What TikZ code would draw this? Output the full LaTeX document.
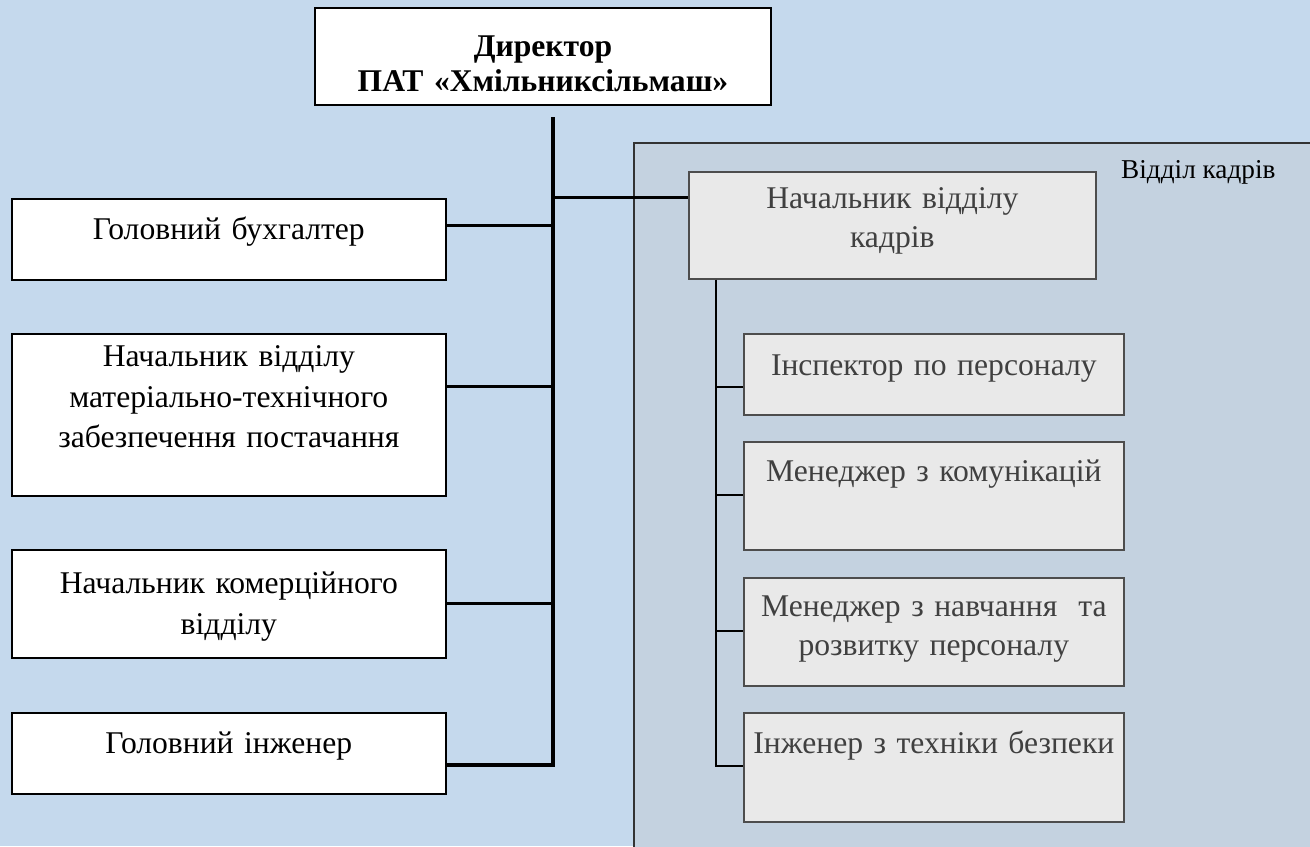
\documentclass[tikz,border=0pt]{standalone}
\usepackage{fontspec}
\setmainfont{Liberation Serif}
\definecolor{bgblue}{RGB}{197,217,237}
\definecolor{deptblue}{RGB}{196,210,224}
\definecolor{boxgray}{RGB}{233,233,233}
\definecolor{edgegray}{RGB}{77,77,77}
\definecolor{textgray}{RGB}{64,64,64}

\begin{document}
\begin{tikzpicture}[x=0.02cm,y=-0.02cm,
    post/.style={draw=black,line width=1pt,fill=white,inner sep=0pt,anchor=north west,
      text width=8.68cm,align=center,font=\fontsize{18}{23}\selectfont},
    hrpost/.style={post,draw=edgegray,fill=boxgray,text=textgray,text width=7.6cm,
      font=\fontsize{18}{22}\selectfont},
    trunk/.style={line width=2.3pt},
    branch/.style={line width=1.7pt},
    twig/.style={line width=0.9pt}]
  \useasboundingbox (0,0) rectangle (1310,846);
  \fill[bgblue] (0,0) rectangle (1310,846);

  % department area
  \begin{scope}
    \clip (0,0) rectangle (1310,846);
    \filldraw[fill=deptblue,draw=black!80,line width=0.8pt] (634,143) rectangle (1330,870);
  \end{scope}
  \node[anchor=base west,font=\fontsize{15.5}{17}\selectfont] (dept) at (1115,178) {Відділ кадрів};

  \node[post,text width=9.12cm,line width=1.2pt,font=\bfseries\fontsize{18}{20}\selectfont,
    text height=0.96cm,text depth=0.98cm] (dir) at (314,7) {Директор\\ПАТ «Хмільниксільмаш»};

  \node[post,text height=0.82cm,text depth=0.80cm] (acc) at (11,198) {Головний бухгалтер};
  \node[post,text height=0.66cm,text depth=2.58cm] (supply) at (11,333)
    {Начальник відділу\\матеріально-технічного\\забезпечення постачання};
  \node[post,text height=0.88cm,text depth=1.28cm] (sales) at (11,549) {Начальник комерційного\\відділу};
  \node[post,text height=0.82cm,text depth=0.80cm] (eng) at (11,712) {Головний інженер};

  \node[hrpost,text width=8.14cm,text height=0.74cm,text depth=1.40cm] (hr) at (688,171)
    {Начальник відділу\\кадрів};
  \node[hrpost,text height=0.84cm,text depth=0.78cm] (insp) at (743,333) {Інспектор по персоналу};
  \node[hrpost,text height=0.80cm,text depth=1.36cm] (comm) at (743,441) {Менеджер з комунікацій};
  \node[hrpost,text height=0.78cm,text depth=1.38cm] (train) at (743,577)
    {Менеджер з навчання~ та\\розвитку персоналу};
  \node[hrpost,text height=0.82cm,text depth=1.36cm] (safe) at (743,712) {Інженер з техніки безпеки};

  % main line
  \coordinate (top) at (553,117);
  \draw[trunk] (top) -- (553,765) -- (eng.east |- 0,765);
  \draw[branch] (acc.east |- 0,225) -- (553,225);
  \draw[branch] (supply.east |- 0,386) -- (553,386);
  \draw[branch] (sales.east |- 0,603) -- (553,603);
  \draw[branch] (553,197) -- (hr.west |- 0,197);

  % department line
  \draw[twig] (hr.south -| 716,0) -- (716,766) -- (safe.west |- 0,766);
  \draw[twig] (716,387) -- (insp.west |- 0,387);
  \draw[twig] (716,495) -- (comm.west |- 0,495);
  \draw[twig] (716,631) -- (train.west |- 0,631);
\end{tikzpicture}
\end{document}
